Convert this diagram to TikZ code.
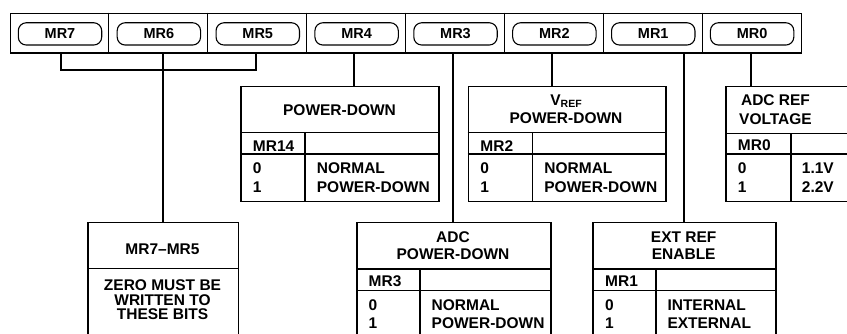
\documentclass[tikz,border=0pt]{standalone}
\usepackage{fontspec}
\setmainfont{Liberation Sans}
\newcommand\tabfont{\fontsize{15.5}{18}\selectfont\bfseries}
\newcommand\pillfont{\fontsize{14.5}{16}\selectfont\bfseries}
\newcommand\subref{\raisebox{-2.5pt}{\fontsize{10.5}{10.5}\selectfont REF}}
\tikzset{
  pill/.style={draw, line width=1.1pt, rounded corners=8pt, minimum width=83.4pt, minimum height=22.3pt, inner sep=0pt, font=\pillfont},
  tbl/.style={draw, line width=1.5pt, inner sep=0pt, anchor=north west},
  tline/.style={line width=1.3pt},
  conn/.style={line width=2.1pt},
  txt/.style={inner sep=0pt, font=\tabfont},
  lt/.style={txt, anchor=base west},
  ct/.style={txt, anchor=base},
}
\begin{document}
\begin{tikzpicture}[x=1pt,y=-1pt]
\useasboundingbox (0,0) rectangle (847,334);
\clip (0,0) rectangle (847,334);

% register bar
\node[draw, line width=1.4pt, minimum width=791pt, minimum height=39.6pt, inner sep=0pt, anchor=north west] (bar) at (10,12.7) {};
\foreach \i in {1,...,7}{
  \draw[line width=0.8pt] ({10+\i*98.875},12.7) -- ({10+\i*98.875},52.3);
}
\node[pill] (p7) at ({10+0*98.875+50},33.9) {MR7};
\node[pill] (p6) at ({10+1*98.875+50},33.9) {MR6};
\node[pill] (p5) at ({10+2*98.875+50},33.9) {MR5};
\node[pill] (p4) at ({10+3*98.875+50},33.9) {MR4};
\node[pill] (p3) at ({10+4*98.875+50},33.9) {MR3};
\node[pill] (p2) at ({10+5*98.875+50},33.9) {MR2};
\node[pill] (p1) at ({10+6*98.875+50},33.9) {MR1};
\node[pill] (p0) at ({10+7*98.875+50},33.9) {MR0};

% table boxes
\node[tbl, minimum width=198.3pt, minimum height=115pt] (t4) at (240,86) {};
\node[tbl, minimum width=197.3pt, minimum height=115pt] (t2) at (467.7,86) {};
\node[tbl, minimum width=140pt, minimum height=115pt] (t0) at (725,86) {};
\node[tbl, minimum width=150.4pt, minimum height=130pt] (b75) at (87.3,221.7) {};
\node[tbl, minimum width=194pt, minimum height=130pt] (b3) at (356,221.7) {};
\node[tbl, minimum width=182.7pt, minimum height=130pt] (b1) at (592.3,221.7) {};

% table dividers
\draw[tline] (240,132.7) -- (438.3,132.7) (240,154) -- (438.3,154) (305,132.7) -- (305,201);
\draw[tline] (467.7,132.7) -- (665,132.7) (467.7,154) -- (665,154) (532.7,132.7) -- (532.7,201);
\draw[tline] (725,133.3) -- (865,133.3) (725,154) -- (865,154) (791,133.3) -- (791,201);
\draw[tline] (87.3,268.3) -- (237.7,268.3);
\draw[tline] (356,269) -- (550,269) (356,290.7) -- (550,290.7) (420,269) -- (420,351.7);
\draw[tline] (592.3,269) -- (775,269) (592.3,290.7) -- (775,290.7) (656,269) -- (656,351.7);

% connectors
\coordinate (c7) at (61,52.3);
\coordinate (c6) at (163.2,52.3);
\coordinate (c5) at (256,52.3);
\coordinate (c4) at (354.3,52.3);
\coordinate (c3) at (452.7,52.3);
\coordinate (c2) at (552,52.3);
\coordinate (c1) at (684.3,52.3);
\coordinate (c0) at (750.7,52.3);
\coordinate (k7) at (61,70);
\coordinate (k5) at (256,70);
\draw[conn] (c7) -- (k7) -- (k5) -- (c5);
\draw[conn] (c6) -- (c6 |- b75.north);
\draw[conn] (c4) -- (c4 |- t4.north);
\draw[conn] (c3) -- (c3 |- b3.north);
\draw[conn] (c2) -- (c2 |- t2.north);
\draw[conn] (c1) -- (c1 |- b1.north);
\draw[conn] (c0) -- (c0 |- t0.north);

% texts: POWER-DOWN (MR4)
\node[ct] (t4h) at (339.5,116) {POWER-DOWN};
\node[lt] (t4a) at (252.7,151.3) {MR14};
\node[lt] (t4b) at (252.7,173.8) {0};
\node[lt] (t4c) at (252.7,193) {1};
\node[lt] (t4d) at (316.7,173.8) {NORMAL};
\node[lt] (t4e) at (316.7,193) {POWER-DOWN};

% VREF POWER-DOWN (MR2)
\node[ct] (t2h1) at (566,105.5) {V\subref};
\node[ct] (t2h2) at (566,123.5) {POWER-DOWN};
\node[lt] (t2a) at (480.2,151.3) {MR2};
\node[lt] (t2b) at (480.2,173.8) {0};
\node[lt] (t2c) at (480.2,193) {1};
\node[lt] (t2d) at (544.2,173.8) {NORMAL};
\node[lt] (t2e) at (544.2,193) {POWER-DOWN};

% ADC REF VOLTAGE (MR0)
\node[ct] (t0h1) at (775.5,106) {ADC REF};
\node[ct] (t0h2) at (775.5,124.3) {VOLTAGE};
\node[lt] (t0a) at (737.7,150.5) {MR0};
\node[lt] (t0b) at (737.7,173.8) {0};
\node[lt] (t0c) at (737.7,192.2) {1};
\node[lt] (t0d) at (801.7,173.8) {1.1V};
\node[lt] (t0e) at (801.7,192.2) {2.2V};

% MR7-MR5
\node[ct] (b75h) at (162.5,254.8) {MR7--MR5};
\node[ct] (b75a) at (162.5,290.8) {ZERO MUST BE};
\node[ct] (b75b) at (162.5,305.2) {WRITTEN TO};
\node[ct] (b75c) at (162.5,319.2) {THESE BITS};

% ADC POWER-DOWN (MR3)
\node[ct] (b3h1) at (453,243) {ADC};
\node[ct] (b3h2) at (453,259.3) {POWER-DOWN};
\node[lt] (b3a) at (368.5,286) {MR3};
\node[lt] (b3b) at (368.5,310.5) {0};
\node[lt] (b3c) at (368.5,328.8) {1};
\node[lt] (b3d) at (431.5,310.5) {NORMAL};
\node[lt] (b3e) at (431.5,328.8) {POWER-DOWN};

% EXT REF ENABLE (MR1)
\node[ct] (b1h1) at (683.7,243) {EXT REF};
\node[ct] (b1h2) at (683.7,259.3) {ENABLE};
\node[lt] (b1a) at (605,286) {MR1};
\node[lt] (b1b) at (605,310.5) {0};
\node[lt] (b1c) at (605,328.8) {1};
\node[lt] (b1d) at (667.3,310.5) {INTERNAL};
\node[lt] (b1e) at (667.3,328.8) {EXTERNAL};
\end{tikzpicture}
\end{document}
